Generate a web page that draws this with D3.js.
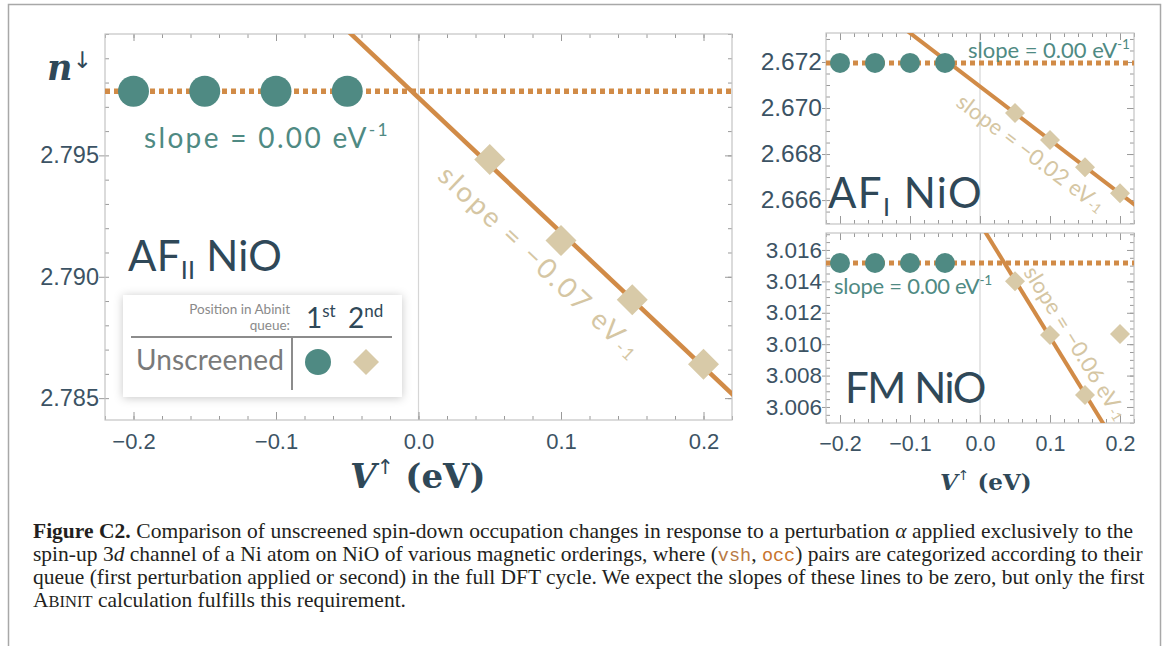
<!DOCTYPE html>
<html>
<head>
<meta charset="utf-8">
<script src="https://cdn.jsdelivr.net/npm/d3@7"></script>
<style>
  body { margin: 0; background: #fff; }
  svg { display: block; font-family: Lato, "Open Sans", sans-serif; }
</style>
</head>
<body>
<svg width="1168" height="646"></svg>
<script>

// ---- data ----
let vFirst  = [-0.2, -0.15, -0.1, -0.05];   // 1st in Abinit queue
let vSecond = [0.05, 0.1, 0.15, 0.2];       // 2nd in Abinit queue

let afiiFirst  = [2.79764, 2.79764, 2.79764, 2.79764];
let afiiSecond = [2.79483, 2.79149, 2.78905, 2.78640];

let afiFirst  = [2.67196, 2.67196, 2.67196, 2.67196];
let afiSecond = [2.66978, 2.66861, 2.66743, 2.66630];

let fmFirst  = [3.01517, 3.01517, 3.01517, 3.01517];
let fmSecond = [3.01400, 3.01059, 3.00676, 3.01064];

let xTicks  = [-0.2, -0.1, 0, 0.1, 0.2];
let xLabels = ["\u22120.2", "\u22120.1", "0.0", "0.1", "0.2"];
let afiiTicks = [2.785, 2.790, 2.795];
let afiTicks  = [2.666, 2.668, 2.670, 2.672];
let fmTicks   = [3.006, 3.008, 3.010, 3.012, 3.014, 3.016];

let slopeFirst  = ["0.00", "0.00", "0.00"];
let slopeSecond = ["\u22120.07", "\u22120.02", "\u22120.06"];
let names = [["AF", "II"], ["AF", "I"], ["FM", ""]];

// ---- colours ----
let orange = "#d18b47",
    teal = "#4f8a83",
    beige = "#d8caa8",
    dark = "#2f4858",
    tickText = "#3c5364";

let svg = d3.select("svg");
let defs = svg.append("defs");

defs.append("filter").attr("id", "shadow")
    .attr("x", "-20%").attr("y", "-40%").attr("width", "140%").attr("height", "180%")
  .append("feDropShadow")
    .attr("dx", 0).attr("dy", 1).attr("stdDeviation", 5)
    .attr("flood-color", "#000").attr("flood-opacity", 0.22);

// page border
svg.append("rect")
    .attr("x", 8.5).attr("y", 4.5).attr("width", 1152).attr("height", 700)
    .attr("fill", "none").attr("stroke", "#a8a8a8").attr("stroke-width", 1.5);

function linfit(xs, ys) {
    let mx = d3.mean(xs), my = d3.mean(ys), sxy = 0, sxx = 0;
    xs.forEach(function(x, i) { sxy += (x - mx) * (ys[i] - my); sxx += (x - mx) * (x - mx); });
    let m = sxy / sxx;
    return [m, my - m * mx];
}

function fitWidth(t, w) {
    let n = t.text().length;
    let len = t.node().getComputedTextLength();
    t.attr("letter-spacing", (w - len) / n);
}

function slopeText(g, str, size, color, sub) {
    let t = g.append("text").attr("fill", color).style("font-size", size + "px");
    t.append("tspan").text("slope = " + str + " eV");
    t.append("tspan").text("-1")
        .style("font-size", (size * 0.62) + "px")
        .attr("dy", sub ? size * 0.22 : -size * 0.42);
    return t;
}

function minorRange(lo, hi, step) {
    let out = [];
    for (let v = Math.ceil(lo / step - 1e-6) * step; v <= hi + 1e-9; v += step) out.push(+v.toFixed(6));
    return out;
}

let panels = [
  { id: "afii", left: 105, right: 732, top: 34, bottom: 420, yDomain: [2.7841, 2.8000],
    yTicks: afiiTicks, yMinor: 0.001, first: afiiFirst, second: afiiSecond, fitN: 4,
    r: 15.5, dh: 15.5, lineW: 4.5, dotW: 5.5, xLab: true, xFont: 22, yFont: 23.5, yTick: 6,
    teal: { x: 144, y: 148, size: 28, w: 246, anchor: "start" },
    rot: { at: 0.103, d: 35, size: 28, w: 268 },
    name: { x: 128, y: 271, size: 42, w: 154 } },
  { id: "afi", left: 826, right: 1134, top: 33, bottom: 224, yDomain: [2.66496, 2.67326],
    yTicks: afiTicks, yMinor: 0.0005, first: afiFirst, second: afiSecond, fitN: 4,
    r: 10, dh: 10, lineW: 4, dotW: 5, xLab: false, xFont: 21, yFont: 24.5, yTick: 4,
    teal: { x: 968, y: 58, size: 22, w: 162, anchor: "start" },
    rot: { at: 0.092, d: 21, size: 22, w: 180 },
    name: { x: 828, y: 208, size: 42, w: 155 } },
  { id: "fm", left: 826, right: 1134, top: 233, bottom: 423, yDomain: [3.00498, 3.01708],
    yTicks: fmTicks, yMinor: 0.0005, first: fmFirst, second: fmSecond, fitN: 3,
    r: 10, dh: 10, lineW: 4, dotW: 5, xLab: true, xFont: 21.5, yFont: 22.5, yTick: 4,
    teal: { x: 834, y: 294, size: 22, w: 158, anchor: "start" },
    rot: { at: 0.114, d: -20, size: 22, w: 176 },
    name: { x: 845, y: 403, size: 42, w: 140 } }
];

panels.forEach(function(p, k) {
    let x = d3.scaleLinear().domain([-0.22, 0.22]).range([p.left, p.right]);
    let y = d3.scaleLinear().domain(p.yDomain).range([p.bottom, p.top]);
    let g = svg.append("g");

    defs.append("clipPath").attr("id", "clip-" + p.id)
      .append("rect")
        .attr("x", p.left).attr("y", p.top)
        .attr("width", p.right - p.left).attr("height", p.bottom - p.top);

    g.append("rect")
        .attr("x", p.left).attr("y", p.top)
        .attr("width", p.right - p.left).attr("height", p.bottom - p.top)
        .attr("fill", "#fff");

    // zero line
    g.append("line")
        .attr("x1", x(0)).attr("x2", x(0)).attr("y1", p.top).attr("y2", p.bottom)
        .attr("stroke", "#d6d6d6").attr("stroke-width", 1.2);

    // axes: major + minor, all four sides
    let xMinor = minorRange(-0.22, 0.22, 0.02);
    let yMinorV = minorRange(p.yDomain[0], p.yDomain[1], p.yMinor);

    let bottom = g.append("g").attr("transform", "translate(0," + p.bottom + ")")
        .call(d3.axisBottom(x).tickValues(xTicks).tickSize(-8).tickPadding(13)
              .tickFormat(function(d, i) { return p.xLab ? xLabels[i] : ""; }));
    g.append("g").attr("transform", "translate(0," + p.bottom + ")")
        .call(d3.axisBottom(x).tickValues(xMinor).tickSize(-4).tickFormat(""));
    g.append("g").attr("transform", "translate(0," + p.top + ")")
        .call(d3.axisTop(x).tickValues(xTicks).tickSize(-7).tickFormat(""));
    g.append("g").attr("transform", "translate(0," + p.top + ")")
        .call(d3.axisTop(x).tickValues(xMinor).tickSize(-4).tickFormat(""));

    let left = g.append("g").attr("transform", "translate(" + p.left + ",0)")
        .call(d3.axisLeft(y).tickValues(p.yTicks).tickSize(p.yTick).tickPadding(0).tickFormat(d3.format(".3f")));
    g.append("g").attr("transform", "translate(" + p.left + ",0)")
        .call(d3.axisLeft(y).tickValues(yMinorV).tickSize(-4).tickFormat(""));
    g.append("g").attr("transform", "translate(" + p.right + ",0)")
        .call(d3.axisRight(y).tickValues(p.yTicks).tickSize(-7).tickFormat(""));
    g.append("g").attr("transform", "translate(" + p.right + ",0)")
        .call(d3.axisRight(y).tickValues(yMinorV).tickSize(-4).tickFormat(""));

    g.selectAll(".domain").remove();
    g.selectAll(".tick line").attr("stroke", "#9a9a9a");
    bottom.selectAll("text").attr("fill", tickText).style("font-size", p.xFont + "px");
    left.selectAll("text").attr("fill", tickText).style("font-size", p.yFont + "px");

    // frame
    g.append("rect")
        .attr("x", p.left).attr("y", p.top)
        .attr("width", p.right - p.left).attr("height", p.bottom - p.top)
        .attr("fill", "none").attr("stroke", "#c4c4c4").attr("stroke-width", 1.2);

    let plot = g.append("g").attr("clip-path", "url(#clip-" + p.id + ")");

    // 1st-queue fit (flat) dotted
    let mean = d3.mean(p.first);
    plot.append("path")
        .datum([-0.22, 0.22])
        .attr("d", d3.line().x(function(d) { return x(d); }).y(function() { return y(mean); }))
        .attr("stroke", orange).attr("stroke-width", p.dotW)
        .attr("stroke-dasharray", "5,4").attr("fill", "none");

    // 2nd-queue fit, solid
    let fit = linfit(vSecond.slice(0, p.fitN), p.second.slice(0, p.fitN));
    let fx = function(v) { return fit[0] * v + fit[1]; };
    plot.append("path")
        .datum([-0.3, 0.3])
        .attr("d", d3.line().x(function(d) { return x(d); }).y(function(d) { return y(fx(d)); }))
        .attr("stroke", orange).attr("stroke-width", p.lineW).attr("fill", "none");

    // markers
    g.selectAll(null)
        .data(d3.zip(vFirst, p.first))
        .join("circle")
        .attr("cx", function(d) { return x(d[0]); })
        .attr("cy", function(d) { return y(d[1]); })
        .attr("r", p.r)
        .attr("fill", teal);

    let side = p.dh * Math.SQRT2;
    g.selectAll(null)
        .data(d3.zip(vSecond, p.second))
        .join("path")
        .attr("d", d3.symbol(d3.symbolSquare, side * side))
        .attr("transform", function(d) { return "translate(" + x(d[0]) + "," + y(d[1]) + ") rotate(45)"; })
        .attr("fill", beige);

    // labels
    let tt = slopeText(g, slopeFirst[k], p.teal.size, teal, false)
        .attr("x", p.teal.x).attr("y", p.teal.y).attr("text-anchor", p.teal.anchor);
    fitWidth(tt, p.teal.w);

    let x0 = x(-0.1), x1 = x(0.1);
    let th = Math.atan2(y(fx(0.1)) - y(fx(-0.1)), x1 - x0);
    let px = x(p.rot.at) - Math.sin(th) * p.rot.d,
        py = y(fx(p.rot.at)) + Math.cos(th) * p.rot.d;
    let rt = slopeText(g, slopeSecond[k], p.rot.size, "#d5c6a3", true)
        .attr("text-anchor", "middle").attr("dominant-baseline", "central")
        .attr("transform", "translate(" + px + "," + py + ") rotate(" + (th * 180 / Math.PI) + ")");
    fitWidth(rt, p.rot.w);

    let nt = g.append("text").attr("x", p.name.x).attr("y", p.name.y)
        .attr("fill", dark).style("font-size", p.name.size + "px");
    nt.append("tspan").text(names[k][0]);
    if (names[k][1]) {
        nt.append("tspan").text(names[k][1]).style("font-size", (p.name.size * 0.6) + "px").attr("dy", p.name.size * 0.2);
        nt.append("tspan").text(" NiO").attr("dy", -p.name.size * 0.2);
    } else {
        nt.append("tspan").text(" NiO");
    }
    fitWidth(nt, p.name.w);
});

// axis titles
let nLab = svg.append("text").attr("x", 47).attr("y", 80).attr("fill", dark)
    .style("font-family", "'DejaVu Serif', serif").style("font-weight", "bold");
nLab.append("tspan").text("n").style("font-style", "italic").style("font-size", "35px");
nLab.append("tspan").text("\u2193").style("font-size", "23px").attr("dy", -12)
    .style("font-family", "'DejaVu Sans', sans-serif").style("font-weight", "normal");

function vTitle(xp, yp, size) {
    let t = svg.append("text").attr("x", xp).attr("y", yp).attr("fill", dark)
        .style("font-family", "'DejaVu Serif', serif").style("font-weight", "bold")
        .style("font-size", size + "px");
    t.append("tspan").text("V").style("font-style", "italic");
    t.append("tspan").text("\u2191").style("font-size", (size * 0.6) + "px").attr("dy", -size * 0.42)
        .style("font-family", "'DejaVu Sans', sans-serif").style("font-weight", "normal");
    t.append("tspan").text(" (eV)").attr("dy", size * 0.42);
}
vTitle(350, 488, 34);
vTitle(940, 490, 23);

// legend
let lg = svg.append("g");
lg.append("rect").attr("x", 123).attr("y", 295).attr("width", 279).attr("height", 102)
    .attr("fill", "#fff").attr("filter", "url(#shadow)");
lg.append("text").attr("x", 290).attr("y", 314).attr("text-anchor", "end")
    .attr("fill", "#8a8a8a").style("font-size", "13.5px").text("Position in Abinit");
lg.append("text").attr("x", 290).attr("y", 330).attr("text-anchor", "end")
    .attr("fill", "#8a8a8a").style("font-size", "13.5px").text("queue:");
[["1", "st", 306], ["2", "nd", 348]].forEach(function(o) {
    let t = lg.append("text").attr("x", o[2]).attr("y", 328).attr("fill", dark).style("font-size", "28px");
    t.append("tspan").text(o[0]);
    t.append("tspan").text(o[1]).style("font-size", "17px").attr("dy", -11);
});
lg.append("line").attr("x1", 131).attr("x2", 392).attr("y1", 337).attr("y2", 337)
    .attr("stroke", "#8c8c8c").attr("stroke-width", 2);
lg.append("line").attr("x1", 292).attr("x2", 292).attr("y1", 337).attr("y2", 390)
    .attr("stroke", "#8c8c8c").attr("stroke-width", 2);
let un = lg.append("text").attr("x", 136).attr("y", 370).attr("fill", "#7a7a7a")
    .style("font-size", "28px").text("Unscreened");
fitWidth(un, 148);
lg.append("circle").attr("cx", 318).attr("cy", 362).attr("r", 13).attr("fill", teal);
lg.append("path").attr("d", d3.symbol(d3.symbolSquare, 2 * 13 * 13))
    .attr("transform", "translate(366,362) rotate(45)").attr("fill", beige);

// caption
let capLines = [
  [["Figure C2.", "b"], [" Comparison of unscreened spin-down occupation changes in response to a perturbation ", ""], ["\u03b1", "i"], [" applied exclusively to the", ""]],
  [["spin-up 3", ""], ["d", "i"], [" channel of a Ni atom on NiO of various magnetic orderings, where (", ""], ["vsh", "m1"], [", ", ""], ["occ", "m2"], [") pairs are categorized according to their", ""]],
  [["queue (first perturbation applied or second) in the full DFT cycle. We expect the slopes of these lines to be zero, but only the first", ""]],
  [["A", ""], ["BINIT", "sc"], [" calculation fulfills this requirement.", ""]]
];
let capY = [538, 561, 584, 607];

capLines.forEach(function(line, i) {
    let t = svg.append("text").attr("x", 33).attr("y", capY[i]).attr("fill", "#231f20")
        .style("font-family", "'Liberation Serif', 'Times New Roman', serif").style("font-size", "21.5px");
    line.forEach(function(s) {
        let ts = t.append("tspan").text(s[0]);
        if (s[1] === "b") ts.style("font-weight", "bold");
        if (s[1] === "i") ts.style("font-style", "italic");
        if (s[1] === "m1" || s[1] === "m2") ts.style("font-family", "'Liberation Mono', monospace")
            .style("font-size", "18.5px").attr("fill", s[1] === "m1" ? "#b87a45" : "#c8742f");
        if (s[1] === "sc") ts.style("font-size", "16.5px");
    });
    if (i < 3) {
        let len = t.node().getComputedTextLength();
        let spaces = t.text().split(" ").length - 1;
        t.attr("word-spacing", Math.max(0, (1100 - len) / spaces));
    }
});

</script>
</body>
</html>
